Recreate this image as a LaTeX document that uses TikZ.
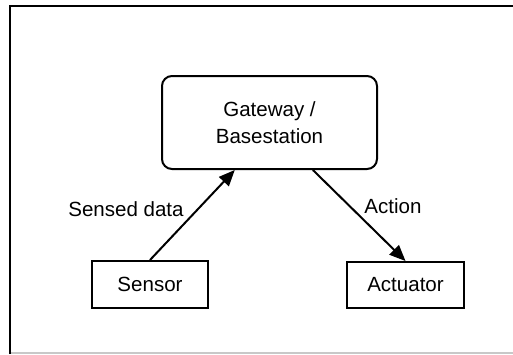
\documentclass[tikz,border=0pt]{standalone}
\usepackage{fontspec}
\setmainfont{Liberation Sans}
\usetikzlibrary{arrows.meta,calc}
\definecolor{framegray}{HTML}{C8C8C8}
\tikzset{
  box/.style={draw=black, line width=1.5pt, fill=white, inner sep=0pt, align=center,
              font=\fontsize{15.4pt}{20pt}\selectfont},
  label text/.style={inner sep=0pt, font=\fontsize{15.4pt}{20pt}\selectfont},
  link/.style={line width=1.5pt, -{Triangle[length=12pt,width=10pt]}},
}
\begin{document}
\begin{tikzpicture}[x=0.75pt,y=-0.75pt]
  \useasboundingbox (0,0) rectangle (513,354);
  % outer frame
  \draw[line width=1.5pt, black] (10,354) -- (10,6) -- (513,6);
  \draw[line width=1.5pt, framegray] (11,352.5) -- (513,352.5);

  % blocks
  \node[box, rounded corners=7.5pt, minimum width=161.25pt, minimum height=69.75pt]
    (gw) at (269.5,122.5) {Gateway /\\Basestation};
  \node[box, minimum width=87pt, minimum height=35.25pt] (sensor) at (150,284.5) {Sensor};
  \node[box, minimum width=87.75pt, minimum height=34.5pt] (act) at (405.5,285) {Actuator};

  % connectors
  \draw[link] (sensor.north) -- ($(gw.south west)!0.34!(gw.south east)$);
  \draw[link] ($(gw.south west)!0.70!(gw.south east)$) -- (act.north);

  % connector labels
  \node[label text] (l1) at (126,209) {Sensed data};
  \node[label text] (l2) at (393,206) {Action};
\end{tikzpicture}
\end{document}
